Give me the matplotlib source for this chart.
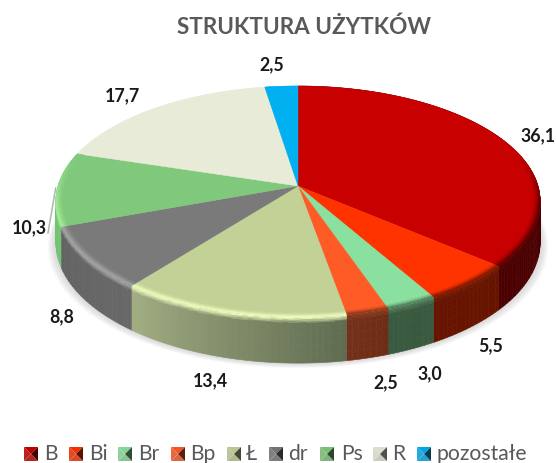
import numpy as np
import matplotlib
matplotlib.use("Agg")
import matplotlib.pyplot as plt
from matplotlib.collections import PolyCollection
from matplotlib.colors import to_rgb
from matplotlib.patches import Polygon

plt.rcParams['font.family'] = ['Lato', 'DejaVu Sans']

categories = ["B", "Bi", "Br", "Bp", "Ł", "dr", "Ps", "R", "pozostałe"]
values = [36.1, 5.5, 3.0, 2.5, 13.4, 8.8, 10.3, 17.7, 2.5]

top_colors = ["#c80000", "#ff3300", "#8ae09e", "#ff5b27", "#c2d196", "#7a7a7a", "#80c97c", "#e8ebd8", "#00b0f0"]
rim_colors = ["#5a0000", "#7a1800", "#4f7a58", "#8a3a1c", "#eefcbc", "#a4a4a4", "#a6ec98", "#f2f4e6", "#40c8f8"]
side_start = ["#4a0000", "#661400", "#3a5a40", "#6e2c14", "#5f6b50", "#686868", "#72c472", "#d8dcc8", "#0088c0"]
side_end = ["#4a0000", "#661400", "#3a5a40", "#74301a", "#a2ae82", "#626262", "#72c472", "#d8dcc8", "#0088c0"]

# labels and legend layout in pixels
label_pos = [(538, 136), (491, 346), (430, 374), (386, 383), (210, 381), (62, 317), (29, 228), (122, 96), (272, 65)]
legend_marker_x = [24, 69, 118, 171, 227, 269, 320, 373, 417]
legend_text_x = [44, 89, 138, 190, 246, 288, 341, 392, 437]
legend_y = 454

cx, cy = 298, 186
rx, ry = 240, 113.4
persp = 0.134
depth = 40


def project(theta, r=1.0, t=0.0):
    u = r * np.sin(theta)
    v = -r * np.cos(theta)
    s = 1 / (1 - persp * v)
    return cx + rx * u * s, cy + ry * v * s + depth * t * s


def blend(a, b, f):
    a, b = np.array(to_rgb(a)), np.array(to_rgb(b))
    return a + (b - a) * f


fig = plt.figure(figsize=(5.56, 4.63), dpi=100)
ax = fig.add_axes([0, 0, 1, 1])
ax.set_xlim(0, 556)
ax.set_ylim(463, 0)
ax.axis("off")

# soft shadow under the pie
circle = np.linspace(0, 2 * np.pi, 240)
for grow in np.linspace(10, 1, 9):
    x, y = project(circle, 1.0, 1.0)
    pts = np.column_stack([cx + (x - cx) * (1 + grow / 300), y + grow * 0.5])
    ax.add_patch(Polygon(pts, closed=True, fc="#808080", ec="none", alpha=0.035))

edges = np.cumsum([0] + values) / sum(values) * 2 * np.pi
side_t = np.concatenate([np.linspace(0, 0.12, 5), np.linspace(0.2, 1, 5)])
rim_r = np.linspace(0.972, 1.0, 6)

# side wall, back to front
quads, cols, order = [], [], []
for i in range(len(values)):
    n = max(int((edges[i + 1] - edges[i]) / np.radians(1.2)), 2)
    th = np.linspace(edges[i], edges[i + 1], n + 1)
    for j in range(n):
        mid = (j + 0.5) / n
        col = blend(side_start[i], side_end[i], mid)
        for k in range(len(side_t) - 1):
            x1, y1 = project(th[j], 1, side_t[k])
            x2, y2 = project(th[j + 1], 1, side_t[k])
            x3, y3 = project(th[j + 1], 1, side_t[k + 1])
            x4, y4 = project(th[j], 1, side_t[k + 1])
            quads.append([(x1, y1), (x2, y2), (x3, y3), (x4, y4)])
            # highlight fades out just under the top edge
            f = np.clip(side_t[k] / 0.12, 0, 1)
            cols.append(blend(rim_colors[i], col, f))
            order.append(-np.cos(th[j]))
idx = np.argsort(order)
ax.add_collection(PolyCollection([quads[a] for a in idx], facecolors=[cols[a] for a in idx],
                                 edgecolors=[cols[a] for a in idx], linewidths=0.4))

# top of the pie
for i in range(len(values)):
    th = np.linspace(edges[i], edges[i + 1], 80)
    x, y = project(th, 1.0)
    pts = np.vstack([[cx, cy], np.column_stack([x, y])])
    ax.add_patch(Polygon(pts, closed=True, fc=top_colors[i], ec=top_colors[i], lw=0.3))

# bevel along the rim, only towards the viewer
quads, cols = [], []
for i in range(len(values)):
    n = max(int((edges[i + 1] - edges[i]) / np.radians(1.2)), 2)
    th = np.linspace(edges[i], edges[i + 1], n + 1)
    for j in range(n):
        v = -np.cos((th[j] + th[j + 1]) / 2)
        w = np.clip((v + 0.3) / 0.5, 0, 1)
        if w == 0:
            continue
        for k in range(len(rim_r) - 1):
            x1, y1 = project(th[j], rim_r[k])
            x2, y2 = project(th[j + 1], rim_r[k])
            x3, y3 = project(th[j + 1], rim_r[k + 1])
            x4, y4 = project(th[j], rim_r[k + 1])
            quads.append([(x1, y1), (x2, y2), (x3, y3), (x4, y4)])
            f = (k + 1) / (len(rim_r) - 1)
            cols.append(blend(top_colors[i], rim_colors[i], w * f ** 1.5))
ax.add_collection(PolyCollection(quads, facecolors=cols, edgecolors=cols, linewidths=0.3))

# leader line for 10,3
ax.plot([55.7, 48], [188, 233], color="#b5b5b5", lw=1.1)

for val, (lx, ly) in zip(values, label_pos):
    ax.text(lx, ly, f"{val:.1f}".replace(".", ","), ha="center", va="center",
            fontsize=12.8, fontweight="bold", color="#1a1a1a")

ax.text(304, 27, "STRUKTURA UŻYTKÓW", ha="center", va="center", fontsize=16.2,
        fontweight="bold", color="#595959")

# legend with small bevelled keys
size = 14
for name, col, mx, tx in zip(categories, top_colors, legend_marker_x, legend_text_x):
    y0 = legend_y - size / 2
    mid = (mx + size / 2, legend_y)
    a, b, c, d = (mx, y0), (mx + size, y0), (mx + size, y0 + size), (mx, y0 + size)
    base = np.array(to_rgb(col))
    ax.add_patch(Polygon([a, b, mid], fc=base * 0.95, ec="none"))
    ax.add_patch(Polygon([d, c, mid], fc=base * 0.7 + 0.15, ec="none"))
    ax.add_patch(Polygon([a, d, mid], fc=base * 0.8 + 0.12, ec="none"))
    ax.add_patch(Polygon([b, c, mid], fc=base * 0.35, ec="none"))
    ax.text(tx, legend_y, name, ha="left", va="center", fontsize=15.2, color="#595959")

fig.savefig("out.png", dpi=100)
